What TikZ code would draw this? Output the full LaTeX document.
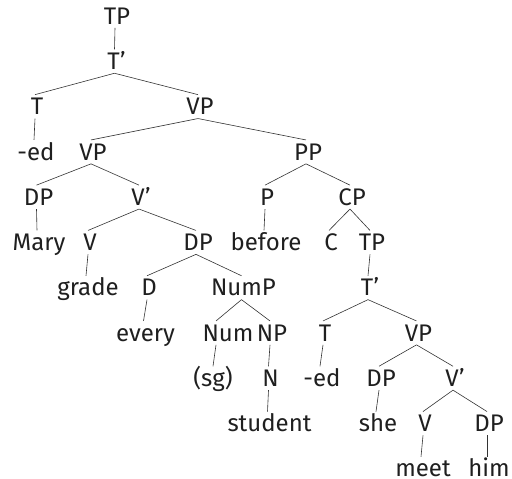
\documentclass[tikz,border=0pt]{standalone}
\usepackage{fontspec}
\setmainfont{Fira Sans}
\newcommand\trline[2]{\draw[br] ([xshift=-2bp]#1.south) -- ([xshift=-2bp]#2.north);}
\begin{document}
\begin{tikzpicture}[x=1bp,y=-1bp,
  lab/.style={font=\fontsize{24bp}{28bp}\selectfont, text height=16.5bp, text depth=0pt,
    inner xsep=0pt, inner ysep=3.5bp, text=black!88},
  br/.style={draw=black!80, line width=0.6bp}]
\useasboundingbox (0,0) rectangle (512,479);
% row 0
\node[lab] (tp) at (117,16.0) {TP};
% row 1
\node[lab] (tb) at (116.5,61.3) {T’};
% row 2
\node[lab] (t1) at (37,106.6) {T};
\node[lab] (vp1) at (200,106.6) {VP};
% row 3
\node[lab] (ed1) at (36,151.9) {-ed};
\node[lab] (vp2) at (93,151.9) {VP};
\node[lab] (pp) at (308,151.9) {PP};
% row 4
\node[lab] (dp1) at (38.5,197.1) {DP};
\node[lab] (vb1) at (141,197.1) {V’};
\node[lab] (p) at (267,197.1) {P};
\node[lab] (cp) at (352,197.1) {CP};
% row 5
\node[lab] (mary) at (39,242.4) {Mary};
\node[lab] (v1) at (90,242.4) {V};
\node[lab] (dp2) at (198,242.4) {DP};
\node[lab] (before) at (266,242.4) {before};
\node[lab] (c) at (331,242.4) {C};
\node[lab] (tp2) at (372,242.4) {TP};
% row 6
\node[lab] (grade) at (88,287.7) {grade};
\node[lab] (d) at (149,287.7) {D};
\node[lab] (nump) at (243.5,287.7) {NumP};
\node[lab] (tb2) at (370,287.7) {T’};
% row 7
\node[lab] (every) at (145.5,332.9) {every};
\node[lab] (num) at (228,332.9) {Num};
\node[lab] (np) at (272,332.9) {NP};
\node[lab] (t2) at (325,332.9) {T};
\node[lab] (vp3) at (418.5,332.9) {VP};
% row 8
\node[lab] (sg) at (213,378.2) {(sg)};
\node[lab] (n) at (270.5,378.2) {N};
\node[lab] (ed2) at (322,378.2) {-ed};
\node[lab] (dp3) at (381,378.2) {DP};
\node[lab] (vb2) at (455,378.2) {V’};
% row 9
\node[lab] (student) at (269.5,423.5) {student};
\node[lab] (she) at (378,423.5) {she};
\node[lab] (v2) at (425,423.5) {V};
\node[lab] (dp4) at (489,423.5) {DP};
% row 10
\node[lab] (meet) at (423,468.7) {meet};
\node[lab] (him) at (489,468.7) {him};
% branches
\trline{tp}{tb}
\trline{tb}{t1}
\trline{tb}{vp1}
\trline{t1}{ed1}
\trline{vp1}{vp2}
\trline{vp1}{pp}
\trline{vp2}{dp1}
\trline{vp2}{vb1}
\trline{dp1}{mary}
\trline{vb1}{v1}
\trline{vb1}{dp2}
\trline{v1}{grade}
\trline{dp2}{d}
\trline{dp2}{nump}
\trline{d}{every}
\draw[br] ([xshift=-2bp]nump.south) -- ([xshift=-12bp]num.north);
\trline{nump}{np}
\draw[br] ([xshift=-12bp]num.south) -- (sg.north);
\trline{np}{n}
\trline{n}{student}
\trline{pp}{p}
\trline{pp}{cp}
\trline{p}{before}
\trline{cp}{c}
\trline{cp}{tp2}
\trline{tp2}{tb2}
\trline{tb2}{t2}
\trline{tb2}{vp3}
\trline{t2}{ed2}
\trline{vp3}{dp3}
\trline{vp3}{vb2}
\trline{dp3}{she}
\trline{vb2}{v2}
\trline{vb2}{dp4}
\trline{v2}{meet}
\trline{dp4}{him}
\end{tikzpicture}
\end{document}
